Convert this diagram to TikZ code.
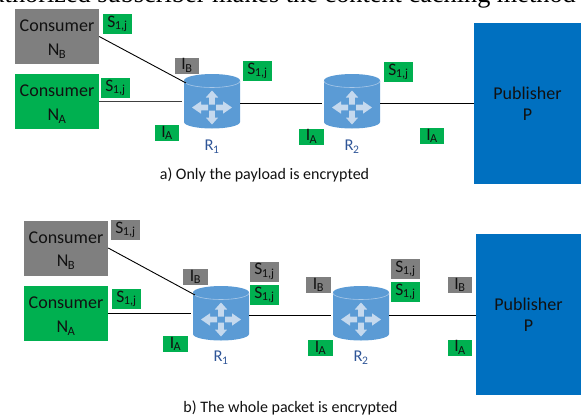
\documentclass[tikz,border=0pt]{standalone}
\usepackage{fontspec}
\setmainfont{Carlito}
\newfontfamily\serifcut{Liberation Serif}
\definecolor{grn}{HTML}{00B050}
\definecolor{gry}{HTML}{7F7F7F}
\definecolor{pub}{HTML}{0070C0}
\definecolor{rtr}{HTML}{5B9BD5}
\definecolor{rtrtop}{HTML}{A9C8E8}
\definecolor{arw}{HTML}{C5D9EE}
\definecolor{rlab}{HTML}{2F5597}
\definecolor{tx}{HTML}{111111}
\newcommand{\subsc}[2]{#1\textsubscript{\kern-0.5pt#2}}
\newcommand{\consumertext}[1]{\rule{0pt}{17pt}Consumer\\\subsc{N}{#1}}
\newcommand{\routerbody}[3]{%
  \fill[rtr] (#2-28,#3+7) -- (#2-28,#3+48) arc[start angle=180,end angle=0,x radius=28,y radius=6.5] -- (#2+28,#3+7) -- cycle;
  \fill[rtr] (#2,#3+6.5) ellipse[x radius=28,y radius=6.5];
  \draw[rtrtop,line width=.6pt] (#2-28,#3+7) arc[start angle=180,end angle=0,x radius=28,y radius=6.5];
  \begin{scope}[shift={(#2,#3+33.5)}]
    \foreach \s in {1,-1}{
      \fill[arw,yscale=\s] (-2.8,3) -- (2.8,3) -- (2.8,10) -- (6.2,10) -- (0,17) -- (-6.2,10) -- (-2.8,10) -- cycle;
      \fill[arw,xscale=\s] (4,-2.8) -- (11,-2.8) -- (11,-6.2) -- (20,0) -- (11,6.2) -- (11,2.8) -- (4,2.8) -- cycle;
    }
  \end{scope}
  \coordinate (#1w) at (#2-30,#3+29);
  \coordinate (#1e) at (#2+28,#3+29);
}
\tikzset{
  x=1pt,y=-1pt,
  consg/.style={rectangle,inner sep=0pt,minimum width=84pt,minimum height=55pt,align=center,font=\fontsize{18}{23.5}\selectfont,text=tx,fill=grn},
  consy/.style={consg,fill=gry},
  pubbox/.style={rectangle,inner sep=0pt,fill=pub,align=center,font=\fontsize{18}{21}\selectfont,text=tx},
  tagS/.style={rectangle,inner sep=0pt,minimum width=29pt,minimum height=20pt,font=\fontsize{17.5}{18}\selectfont,text=tx},
  tagI/.style={rectangle,inner sep=0pt,minimum width=24.5pt,minimum height=16pt,font=\fontsize{17.5}{18}\selectfont,text=tx},
  fg/.style={fill=grn},
  fy/.style={fill=gry},
  link/.style={line width=.9pt,draw=black},
  rl/.style={font=\fontsize{16.5}{18}\selectfont,text=rlab,inner sep=0pt},
  captxt/.style={font=\fontsize{16}{18}\selectfont,text=tx,inner sep=0pt},
}
\begin{document}
\begin{tikzpicture}
\useasboundingbox (0,0) rectangle (581,416);
\begin{scope}
\clip (0,0) rectangle (581,416);
\node[anchor=base east,inner sep=0pt,font=\serifcut\fontsize{26.3}{28}\selectfont] (head) at (576,2) {authorized subscriber makes the content caching method};
\end{scope}

% --- panel a ---
\node[consy] (aNB) at (57,36.5) {\consumertext{B}};
\node[consg] (aNA) at (57,101.5) {\consumertext{A}};
\node[tagS,fg] (aS1) at (117.5,24) {\subsc{S}{1,j}};
\node[tagS,fg] (aS2) at (115.5,88) {\subsc{S}{1,j}};
\routerbody{aRa}{212}{74}
\routerbody{aRb}{352}{74}
\node[tagI,fy] (aIB) at (187,65.5) {\subsc{I}{B}};
\node[tagS,fg] (aS3) at (257.5,71) {\subsc{S}{1,j}};
\node[tagI,fg] (aIA) at (167,133) {\subsc{I}{A}};
\node[rl] (aR1) at (212,146.5) {\subsc{R}{1}};
\node[rl] (aR2) at (352,146.5) {\subsc{R}{2}};
\node[tagS,fg] (aS4) at (398.5,72) {\subsc{S}{1,j}};
\node[tagI,fg] (aIA2) at (311.5,136.5) {\subsc{I}{A}};
\node[tagI,fg] (aIA3) at (432,136) {\subsc{I}{A}};
\node[pubbox,minimum width=107pt,minimum height=161pt] (aP) at (527.5,103.5) {Publisher\\P};
\coordinate (aq) at (186,83);
\draw[link] (aNB.east) -- (aq);
\draw[link,draw=black!75,line width=1.2pt] (aNA.east) -- (aNA.east -| aRaw);
\draw[link] (aRae) -- (aRbw);
\draw[link] (aRbe) -- (aP.west |- aRbe);
\node[captxt] (acap) at (264.5,175) {a) Only the payload is encrypted};

% --- panel b ---
\node[consy] (bNB) at (66,248) {\consumertext{B}};
\node[consg] (bNA) at (66,313.5) {\consumertext{A}};
\node[tagS,fy] (bS1) at (125.5,230) {\subsc{S}{1,j}};
\node[tagS,fg] (bS2) at (126.5,299) {\subsc{S}{1,j}};
\routerbody{bRa}{221}{286}
\routerbody{bRb}{361}{286}
\node[tagI,fy] (bIB) at (195.5,277) {\subsc{I}{B}};
\node[tagS,fy] (bS3) at (264.5,271.5) {\subsc{S}{1,j}};
\node[tagS,fg] (bS4) at (264.5,295) {\subsc{S}{1,j}};
\node[tagI,fg] (bIA) at (175.5,344) {\subsc{I}{A}};
\node[rl] (bR1) at (221,357.5) {\subsc{R}{1}};
\node[rl] (bR2) at (361,357.5) {\subsc{R}{2}};
\node[tagI,fy] (bIB2) at (318.5,285) {\subsc{I}{B}};
\node[tagI,fg] (bIA2) at (320.5,348) {\subsc{I}{A}};
\node[tagS,fy] (bS5) at (405.5,269) {\subsc{S}{1,j}};
\node[tagS,fg] (bS6) at (405.5,292) {\subsc{S}{1,j}};
\node[tagI,fy] (bIB3) at (460,285) {\subsc{I}{B}};
\node[tagI,fg] (bIA3) at (460,347.5) {\subsc{I}{A}};
\node[pubbox,minimum width=105pt,minimum height=161pt] (bP) at (528.5,314.5) {Publisher\\P};
\coordinate (bq) at (195,295);
\draw[link] (bNB.east) -- (bq);
\draw[link] (bNA.east) -- (bNA.east -| bRaw);
\draw[link] (bRae) -- (bRbw);
\draw[link] (bRbe) -- (bP.west |- bRbe);
\node[captxt] (bcap) at (290.5,407.5) {b) The whole packet is encrypted};
\end{tikzpicture}
\end{document}
